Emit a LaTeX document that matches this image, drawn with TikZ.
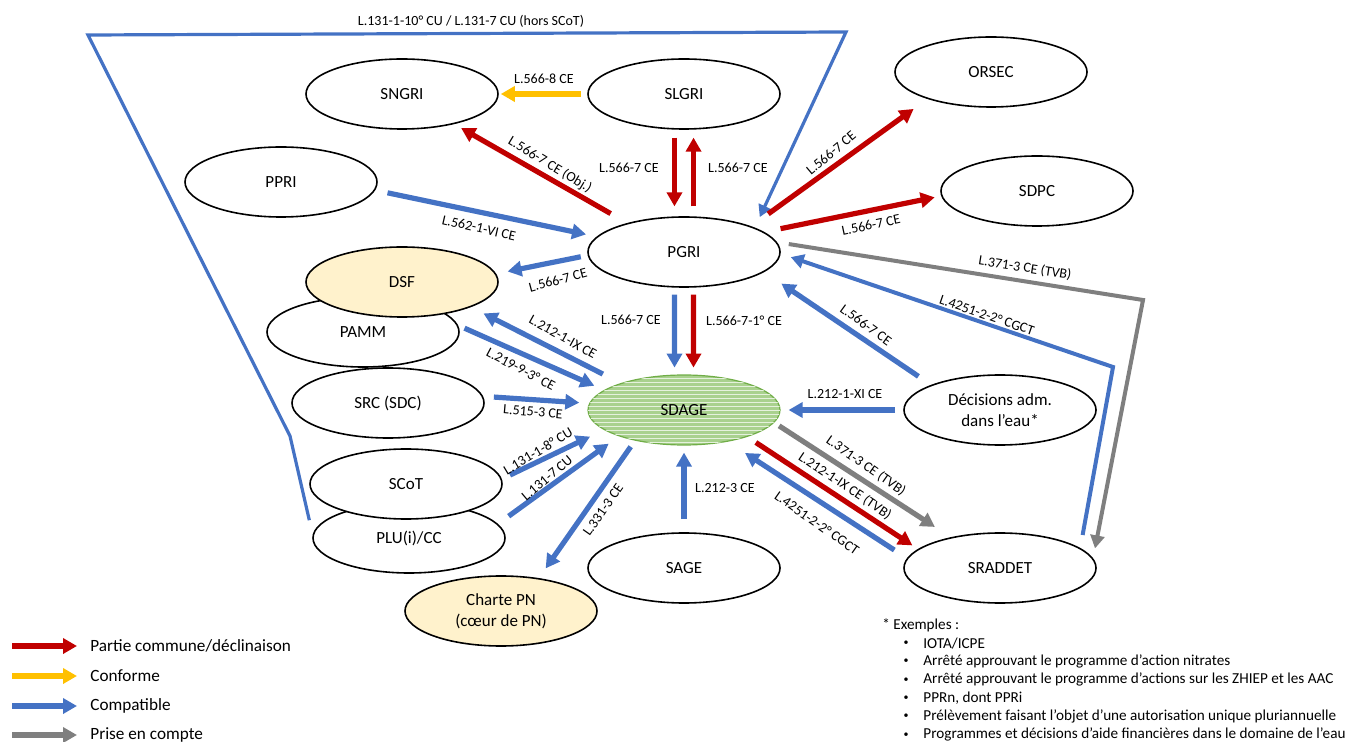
\documentclass[tikz,border=0pt]{standalone}
\usepackage{fontspec}
\setmainfont{Carlito}
\usetikzlibrary{shapes.geometric,arrows.meta,patterns.meta}

\definecolor{partie}{HTML}{C00000}
\definecolor{conforme}{HTML}{FFC000}
\definecolor{compat}{HTML}{4472C4}
\definecolor{prise}{HTML}{7F7F7F}
\definecolor{jaune}{HTML}{FFF2CC}
\definecolor{vert}{HTML}{A9D18E}
\definecolor{vertbord}{HTML}{70AD47}

\begin{document}
\begin{tikzpicture}[x=0.5pt, y=-0.5pt,
  doc/.style={ellipse, draw, line width=0.8pt, fill=white, minimum width=96pt, minimum height=35pt, inner sep=0pt, align=center, font=\fontsize{8.5}{10.5}\selectfont},
  lien/.style={line width=2.6pt, -{Triangle[width=7.5pt,length=7pt]}},
  poly/.style={line width=2pt, -{Triangle[width=7pt,length=6.5pt]}},
  lbl/.style={font=\fontsize{7}{8}\selectfont, inner sep=0pt},
  legtxt/.style={font=\fontsize{8.6}{10}\selectfont, inner sep=0pt, anchor=west},
  fn/.style={font=\fontsize{7.6}{9}\selectfont, inner sep=0pt}]
\useasboundingbox (0,0) rectangle (1348,742);

\node[doc] (sngri) at (402,94) {SNGRI};
\node[doc] (slgri) at (684,94) {SLGRI};
\node[doc] (orsec) at (991,72) {ORSEC};
\node[doc] (sdpc) at (1037,191) {SDPC};
\node[doc] (ppri) at (281,182) {PPRI};
\node[doc] (pgri) at (684,252) {PGRI};
\node[doc] (pamm) at (363,332) {PAMM};
\node[doc, fill=jaune] (dsf) at (402,282) {DSF};
\node[doc] (src) at (388,403) {SRC (SDC)};
\node[doc, fill=vert, draw=vertbord, line width=0.6pt, postaction={pattern={Lines[angle=0,distance=2pt,line width=0.35pt]}, pattern color=white!70!vert}] (sdage) at (684,410) {SDAGE};
\node[doc] (dec) at (1000,410) {Décisions adm.\\dans l’eau*};
\node[doc] (plu) at (409,538) {PLU(i)/CC};
\node[doc] (scot) at (406,484) {SCoT};
\node[doc, fill=jaune] (charte) at (501,611) {Charte PN\\(cœur de PN)};
\node[doc] (sage) at (684,568) {SAGE};
\node[doc] (sraddet) at (1000,568) {SRADDET};

\coordinate (t1) at (290,436);
\coordinate (t2) at (88,35);
\coordinate (t3) at (846,32);
\draw[compat, line width=1.6pt, -{Triangle[width=6.5pt,length=6pt]}, shorten <=7.4pt, shorten >=5.8pt] (plu.178) -- (t1) -- (t2) -- (t3) -- (pgri.19);
\node[lbl] (l1) at (471,21) {L.131-1-10° CU / L.131-7 CU (hors SCoT)};

\draw[lien, conforme, shorten <=3pt, shorten >=1pt] (slgri.west) -- (sngri.east);
\draw[lien, partie, shorten <=9.5pt, shorten >=4pt] (pgri.153) -- (sngri.-30);
\draw[lien, partie, shorten <=4pt, shorten >=5pt] (slgri.255) -- (pgri.105);
\draw[lien, partie, shorten <=5pt, shorten >=4pt] (pgri.75) -- (slgri.285);
\draw[lien, partie, shorten <=10.5pt, shorten >=8.5pt] (pgri.21) -- (orsec.203);
\draw[lien, partie, shorten <=8.3pt, shorten >=3.3pt] (pgri.14) -- (sdpc.183);
\node[lbl] (l2) at (544,79) {L.566-8 CE};
\node[lbl, rotate=-31] (l3) at (550,165) {L.566-7 CE (Obj.)};
\node[lbl] (l4) at (629,168) {L.566-7 CE};
\node[lbl] (l5) at (738,168) {L.566-7 CE};
\node[lbl, rotate=40] (l6) at (831,153) {L.566-7 CE};
\node[lbl, rotate=12] (l7) at (871,225) {L.566-7 CE};

\draw[lien, compat, shorten <=6.3pt, shorten >=5.4pt] (ppri.-5) -- (pgri.170);
\draw[lien, compat, shorten <=3.5pt, shorten >=5.8pt] (pgri.182) -- (dsf.5);
\draw[lien, compat, shorten <=10pt, shorten >=7pt] (sdage.157) -- (dsf.-20);
\draw[lien, compat, shorten <=3.5pt, shorten >=5.3pt] (pamm.4) -- (sdage.166);
\draw[lien, compat, shorten <=5.4pt, shorten >=4.9pt] (src.4) -- (sdage.176);
\draw[lien, compat, shorten <=4.5pt, shorten >=7.7pt] (scot.3) -- (sdage.194);
\draw[lien, compat, shorten <=6.6pt, shorten >=6.3pt] (plu.9) -- (sdage.202);
\draw[lien, compat, shorten <=3.7pt, shorten >=5.9pt] (sdage.212) -- (charte.41);
\draw[lien, compat, shorten <=6.5pt, shorten >=3.5pt] (sage.north) -- (sdage.south);
\draw[lien, compat, shorten <=3.5pt, shorten >=3.5pt] (pgri.255) -- (sdage.105);
\draw[lien, partie, shorten <=3.5pt, shorten >=3.5pt] (pgri.285) -- (sdage.75);
\node[lbl, rotate=-13] (l8) at (479,228) {L.562-1-VI CE};
\node[lbl, rotate=15] (l9) at (558,280) {L.566-7 CE};
\node[lbl, rotate=-29] (l10) at (563,337) {L.212-1-IX CE};
\node[lbl, rotate=-28] (l11) at (521,369) {L.219-9-3° CE};
\node[lbl, rotate=-5] (l12) at (533,412) {L.515-3 CE};
\node[lbl, rotate=31] (l13) at (538,451) {L.131-1-8° CU};
\node[lbl, rotate=40] (l14) at (547,478) {L.131-7 CU};
\node[lbl, rotate=55] (l15) at (603,510) {L.331-3 CE};
\node[lbl] (l16) at (725,488) {L.212-3 CE};
\node[lbl] (l17) at (631,320) {L.566-7 CE};
\node[lbl] (l18) at (744,321) {L.566-7-1° CE};

\draw[lien, compat, shorten <=4pt, shorten >=4pt] (dec.west) -- (sdage.east);
\draw[lien, compat, shorten <=7.6pt, shorten >=10.3pt] (dec.160) -- (pgri.-14);
\coordinate (k1) at (1113,367);
\draw[poly, compat, shorten <=6.6pt, shorten >=5.3pt] (sraddet.14) -- (k1) -- (pgri.-1.5);
\coordinate (k2) at (1143,300);
\draw[poly, prise, shorten <=5.9pt, shorten >=5pt] (pgri.6) -- (k2) -- (sraddet.6);
\draw[lien, prise, shorten <=2.9pt, shorten >=9.4pt] (sdage.-8) -- (sraddet.148);
\draw[lien, partie, shorten <=5.1pt, shorten >=3.3pt] (sdage.-23) -- (sraddet.167);
\draw[lien, compat, shorten <=7.5pt, shorten >=10.3pt] (sraddet.174) -- (sdage.-36);
\node[lbl] (l19) at (845,394) {L.212-1-XI CE};
\node[lbl, rotate=-36] (l20) at (866,325) {L.566-7 CE};
\node[lbl, rotate=-19] (l21) at (987,315) {L.4251-2-2° CGCT};
\node[lbl, rotate=-9] (l22) at (1025,268) {L.371-3 CE (TVB)};
\node[lbl, rotate=-35] (l23) at (866,466) {L.371-3 CE (TVB)};
\node[lbl, rotate=-34] (l24) at (845,486) {L.212-1-IX CE (TVB)};
\node[lbl, rotate=-35] (l25) at (817,523) {L.4251-2-2° CGCT};

\foreach \y/\c/\t [count=\i] in {646/partie/{Partie commune/déclinaison}, 676/conforme/Conforme, 706/compat/Compatible, 735/prise/Prise en compte} {
  \node[legtxt] (leg\i) at (90,\y) {\t};
  \coordinate (legs\i) at (12,\y);
  \draw[lien, \c, shorten >=6.5pt] (legs\i) -- (leg\i.west);
}

\node[fn, anchor=west] (ex0) at (882,625) {* Exemples :};
\foreach \t [count=\i] in {IOTA/ICPE, Arrêté approuvant le programme d’action nitrates, Arrêté approuvant le programme d’actions sur les ZHIEP et les AAC, {PPRn, dont PPRi}, Prélèvement faisant l’objet d’une autorisation unique pluriannuelle, Programmes et décisions d’aide financières dans le domaine de l’eau} {
  \node[fn, font=\fontsize{5}{6}\selectfont] (bul\i) at (906,625+18.3*\i) {•};
  \node[fn, anchor=west] (ex\i) at (923,625+18.3*\i) {\t};
}
\end{tikzpicture}
\end{document}
